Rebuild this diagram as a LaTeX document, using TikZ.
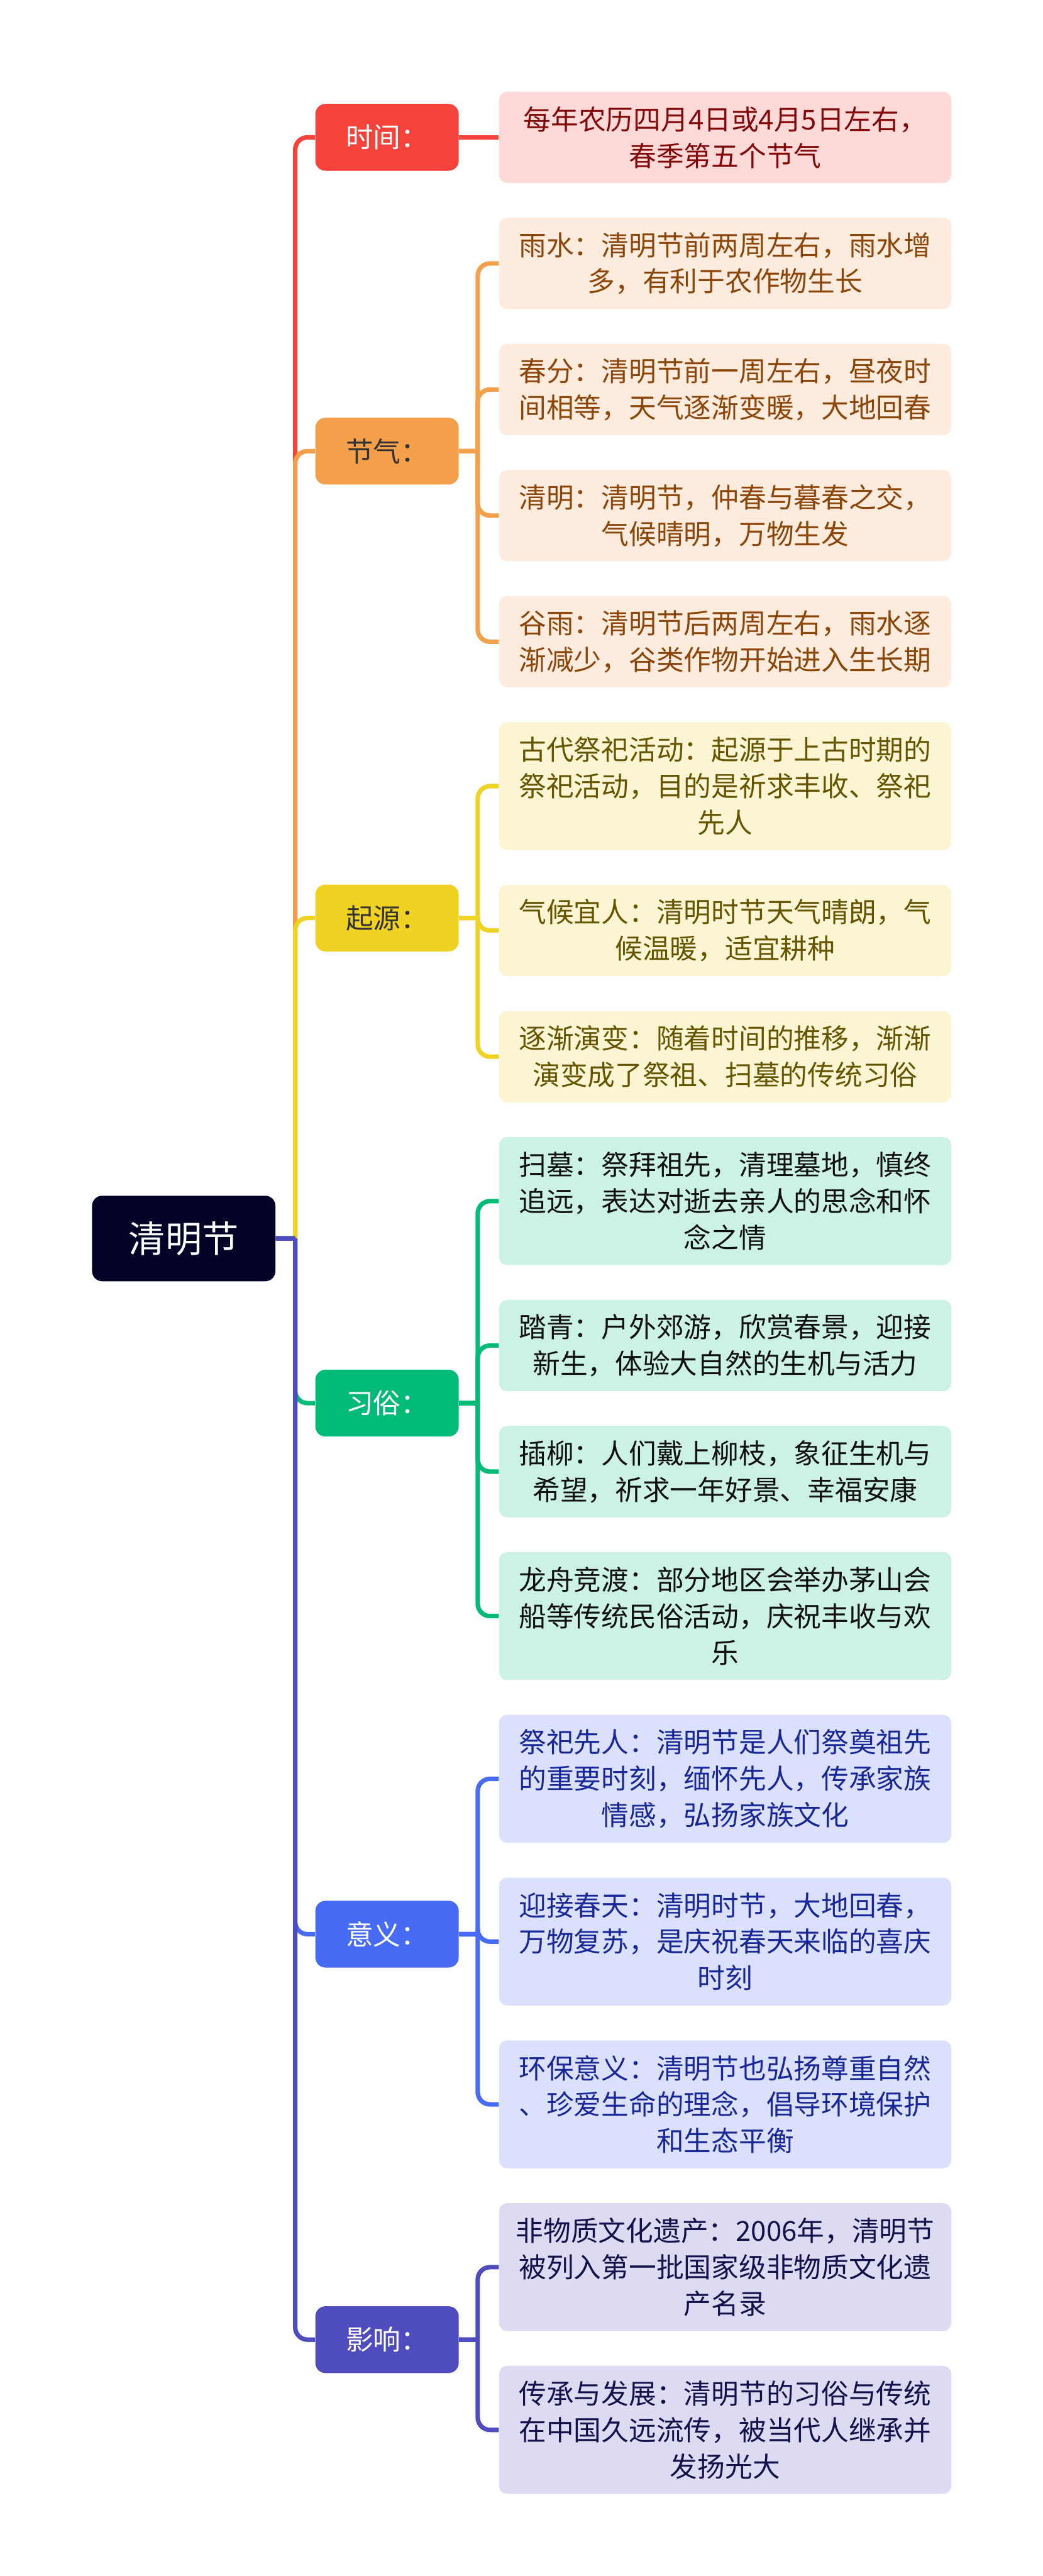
\documentclass[tikz,border=0pt]{standalone}
\usepackage{fontspec}
\setmainfont{Noto Sans CJK SC}
\usepackage{tikz}
\usetikzlibrary{positioning}
\definecolor{corzhuti}{RGB}{3,3,40}
\definecolor{hong}{RGB}{245,66,58}
\definecolor{hongdi}{RGB}{253,217,216}
\definecolor{hongzi}{RGB}{130,10,10}
\definecolor{cheng}{RGB}{244,160,75}
\definecolor{chengdi}{RGB}{253,235,221}
\definecolor{chengzi}{RGB}{140,70,10}
\definecolor{huang}{RGB}{240,210,35}
\definecolor{huangdi}{RGB}{251,245,212}
\definecolor{huangzi}{RGB}{102,85,0}
\definecolor{lv}{RGB}{0,186,120}
\definecolor{lvdi}{RGB}{204,242,227}
\definecolor{lvzi}{RGB}{17,17,17}
\definecolor{lan}{RGB}{72,107,245}
\definecolor{landi}{RGB}{219,225,253}
\definecolor{lanzi}{RGB}{25,40,150}
\definecolor{dian}{RGB}{79,76,191}
\definecolor{diandi}{RGB}{220,219,242}
\definecolor{dianzi}{RGB}{20,18,75}
\definecolor{shenhui}{RGB}{51,51,51}

\begin{document}
\begin{tikzpicture}[
  node distance=0.84cm,
  zhuti/.style={rectangle, rounded corners=0.25cm, fill=corzhuti, text=white,
                minimum width=4.5cm, minimum height=2.1cm,
                font=\fontsize{25.6pt}{30pt}\selectfont},
  fenzhi/.style 2 args={rectangle, rounded corners=0.25cm, fill=#1, text=#2,
                minimum width=3.52cm, minimum height=1.64cm,
                font=\fontsize{19.2pt}{25.4pt}\selectfont},
  yezi/.style 2 args={rectangle, rounded corners=0.2cm, fill=#1, text=#2,
                text width=10.4cm, inner xsep=0.35cm, inner ysep=0.1cm, align=center,
                minimum height=2.24cm, font=\fontsize{19.2pt}{25.4pt}\selectfont},
  san/.style={minimum height=3.14cm},
  xian/.style={line width=0.11cm, color=#1}
]
  \path[use as bounding box, fill=white] (0,0) rectangle (25.6,-63.21);

  \node[zhuti] (qingming) at (4.51,-30.39) {清明节};
  \node[fenzhi={hong}{white}] (shijian) at (9.5,-3.37) {时间：};
  \node[fenzhi={cheng}{shenhui}] (jieqi) at (9.5,-11.07) {节气：};
  \node[fenzhi={huang}{shenhui}] (qiyuan) at (9.5,-22.525) {起源：};
  \node[fenzhi={lv}{white}] (xisu) at (9.5,-34.43) {习俗：};
  \node[fenzhi={lan}{white}] (yiyi) at (9.5,-47.46) {意义：};
  \node[fenzhi={dian}{white}] (yingxiang) at (9.5,-57.41) {影响：};

  \node[yezi={hongdi}{hongzi}] (sj1) at (17.8,-3.37) {每年农历四月4日或4月5日左右，\\春季第五个节气};
  \node[yezi={chengdi}{chengzi}, below=of sj1] (jq1) {雨水：清明节前两周左右，雨水增\\多，有利于农作物生长};
  \node[yezi={chengdi}{chengzi}, below=of jq1] (jq2) {春分：清明节前一周左右，昼夜时\\间相等，天气逐渐变暖，大地回春};
  \node[yezi={chengdi}{chengzi}, below=of jq2] (jq3) {清明：清明节，仲春与暮春之交，\\气候晴明，万物生发};
  \node[yezi={chengdi}{chengzi}, below=of jq3] (jq4) {谷雨：清明节后两周左右，雨水逐\\渐减少，谷类作物开始进入生长期};
  \node[yezi={huangdi}{huangzi}, san, below=of jq4] (qy1) {古代祭祀活动：起源于上古时期的\\祭祀活动，目的是祈求丰收、祭祀\\先人};
  \node[yezi={huangdi}{huangzi}, below=of qy1] (qy2) {气候宜人：清明时节天气晴朗，气\\候温暖，适宜耕种};
  \node[yezi={huangdi}{huangzi}, below=of qy2] (qy3) {逐渐演变：随着时间的推移，渐渐\\演变成了祭祖、扫墓的传统习俗};
  \node[yezi={lvdi}{lvzi}, san, below=of qy3] (xs1) {扫墓：祭拜祖先，清理墓地，慎终\\追远，表达对逝去亲人的思念和怀\\念之情};
  \node[yezi={lvdi}{lvzi}, below=of xs1] (xs2) {踏青：户外郊游，欣赏春景，迎接\\新生，体验大自然的生机与活力};
  \node[yezi={lvdi}{lvzi}, below=of xs2] (xs3) {插柳：人们戴上柳枝，象征生机与\\希望，祈求一年好景、幸福安康};
  \node[yezi={lvdi}{lvzi}, san, below=of xs3] (xs4) {龙舟竞渡：部分地区会举办茅山会\\船等传统民俗活动，庆祝丰收与欢\\乐};
  \node[yezi={landi}{lanzi}, san, below=of xs4] (yy1) {祭祀先人：清明节是人们祭奠祖先\\的重要时刻，缅怀先人，传承家族\\情感，弘扬家族文化};
  \node[yezi={landi}{lanzi}, san, below=of yy1] (yy2) {迎接春天：清明时节，大地回春，\\万物复苏，是庆祝春天来临的喜庆\\时刻};
  \node[yezi={landi}{lanzi}, san, below=of yy2] (yy3) {环保意义：清明节也弘扬尊重自然\\、珍爱生命的理念，倡导环境保护\\和生态平衡};
  \node[yezi={diandi}{dianzi}, san, below=of yy3] (yx1) {非物质文化遗产：2006年，清明节\\被列入第一批国家级非物质文化遗\\产名录};
  \node[yezi={diandi}{dianzi}, san, below=of yx1] (yx2) {传承与发展：清明节的习俗与传统\\在中国久远流传，被当代人继承并\\发扬光大};

  \draw[xian=hong] (qingming.east) -- ++(0.48,0) ++(0,0) [rounded corners=0.3cm] |- (shijian.west);
  \draw[xian=cheng] (qingming.east) -- ++(0.48,0) ++(0,0) [rounded corners=0.3cm] |- (jieqi.west);
  \draw[xian=huang] (qingming.east) -- ++(0.48,0) ++(0,0) [rounded corners=0.3cm] |- (qiyuan.west);
  \draw[xian=lv] (qingming.east) -- ++(0.48,0) ++(0,0) [rounded corners=0.3cm] |- (xisu.west);
  \draw[xian=lan] (qingming.east) -- ++(0.48,0) ++(0,0) [rounded corners=0.3cm] |- (yiyi.west);
  \draw[xian=dian] (qingming.east) -- ++(0.48,0) ++(0,0) [rounded corners=0.3cm] |- (yingxiang.west);

  \draw[xian=hong] (shijian.east) -- (sj1.west);
  \draw[xian=cheng] (jieqi.east) -- ++(0.46,0) ++(0,0) [rounded corners=0.3cm] |- (jq1.west);
  \draw[xian=cheng] (jieqi.east) -- ++(0.46,0) ++(0,0) [rounded corners=0.3cm] |- (jq2.west);
  \draw[xian=cheng] (jieqi.east) -- ++(0.46,0) ++(0,0) [rounded corners=0.3cm] |- (jq3.west);
  \draw[xian=cheng] (jieqi.east) -- ++(0.46,0) ++(0,0) [rounded corners=0.3cm] |- (jq4.west);
  \draw[xian=huang] (qiyuan.east) -- ++(0.46,0) ++(0,0) [rounded corners=0.3cm] |- (qy1.west);
  \draw[xian=huang] (qiyuan.east) -- ++(0.46,0) ++(0,0) [rounded corners=0.3cm] |- (qy2.west);
  \draw[xian=huang] (qiyuan.east) -- ++(0.46,0) ++(0,0) [rounded corners=0.3cm] |- (qy3.west);
  \draw[xian=lv] (xisu.east) -- ++(0.46,0) ++(0,0) [rounded corners=0.3cm] |- (xs1.west);
  \draw[xian=lv] (xisu.east) -- ++(0.46,0) ++(0,0) [rounded corners=0.3cm] |- (xs2.west);
  \draw[xian=lv] (xisu.east) -- ++(0.46,0) ++(0,0) [rounded corners=0.3cm] |- (xs3.west);
  \draw[xian=lv] (xisu.east) -- ++(0.46,0) ++(0,0) [rounded corners=0.3cm] |- (xs4.west);
  \draw[xian=lan] (yiyi.east) -- ++(0.46,0) ++(0,0) [rounded corners=0.3cm] |- (yy1.west);
  \draw[xian=lan] (yiyi.east) -- ++(0.46,0) ++(0,0) [rounded corners=0.3cm] |- (yy2.west);
  \draw[xian=lan] (yiyi.east) -- ++(0.46,0) ++(0,0) [rounded corners=0.3cm] |- (yy3.west);
  \draw[xian=dian] (yingxiang.east) -- ++(0.46,0) ++(0,0) [rounded corners=0.3cm] |- (yx1.west);
  \draw[xian=dian] (yingxiang.east) -- ++(0.46,0) ++(0,0) [rounded corners=0.3cm] |- (yx2.west);
\end{tikzpicture}
\end{document}
